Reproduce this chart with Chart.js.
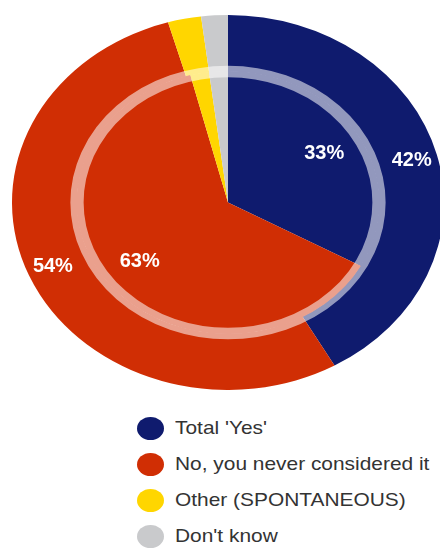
<!DOCTYPE html>
<html>
<head>
<meta charset="utf-8">
<script src="https://cdn.jsdelivr.net/npm/chart.js@4"></script>
<style>
  html, body { margin: 0; padding: 0; width: 440px; height: 551px; overflow: hidden; background: #fff; }
  #pie { position: absolute; left: 0; top: 0; }
  #legend { position: absolute; left: 137px; top: 410px; font-family: "Liberation Sans", Arial, sans-serif; }
  .item { height: 36px; display: flex; align-items: center; }
  .dot { width: 27px; height: 23px; border-radius: 50%; margin-right: 11px; flex: none; }
  .txt { font-size: 19px; color: #333; white-space: nowrap; transform: scaleX(1.1); transform-origin: left center; }
</style>
</head>
<body>
<canvas id="pie" width="440" height="390"></canvas>
<div id="legend"></div>
<script>
const categories = ["Total 'Yes'", "No, you never considered it", "Other (SPONTANEOUS)", "Don't know"];
const outerValues = [42, 54, 2.5, 2];
const innerValues = [33, 63, 2, 2];
const colors = ["#0f1b6e", "#d02e04", "#ffd600", "#c9cacc"];

// the picture is a bit wider than tall
const STRETCH_X = 1.152;

/* stretch the pie, draw the pale ring and the % labels */
const ellipsePie = {
  id: "ellipsePie",
  beforeDatasetsDraw(chart) {
    const ctx = chart.ctx;
    const arc = chart.getDatasetMeta(0).data[0];
    ctx.save();
    ctx.translate(arc.x, arc.y);
    ctx.scale(STRETCH_X, 1);
    ctx.translate(-arc.x, -arc.y);
  },
  afterDatasetsDraw(chart) {
    const ctx = chart.ctx;
    const outer = chart.getDatasetMeta(0).data;
    const inner = chart.getDatasetMeta(1).data;
    const cx = outer[0].x, cy = outer[0].y;
    const seam = outer[0].innerRadius;

    // hide the hairline between the two rings
    inner.forEach((arc, i) => {
      ctx.beginPath();
      ctx.arc(cx, cy, seam - 1.5, arc.startAngle, arc.endAngle);
      ctx.lineWidth = 4;
      ctx.strokeStyle = colors[i];
      ctx.stroke();
    });

    ctx.beginPath();
    ctx.arc(cx, cy, seam, 0, Math.PI * 2);
    ctx.lineWidth = 11.5;
    ctx.strokeStyle = "rgba(255,255,255,0.55)";
    ctx.stroke();
    ctx.restore();

    ctx.save();
    ctx.font = "bold 20px 'Liberation Sans', Arial, sans-serif";
    ctx.fillStyle = "#fff";
    ctx.textAlign = "center";
    ctx.textBaseline = "middle";
    const put = (arc, value, r) => {
      if (value < 10) return;
      const a = (arc.startAngle + arc.endAngle) / 2;
      ctx.fillText(value + "%", cx + Math.cos(a) * r * STRETCH_X, cy + Math.sin(a) * r);
    };
    outer.forEach((arc, i) => put(arc, outerValues[i], arc.innerRadius + 0.6 * (arc.outerRadius - arc.innerRadius)));
    inner.forEach((arc, i) => put(arc, innerValues[i], 0.74 * arc.outerRadius));
    ctx.restore();
  }
};

new Chart(document.getElementById("pie"), {
  type: "pie",
  data: {
    labels: categories,
    datasets: [
      { data: outerValues, backgroundColor: colors, borderWidth: 0, hoverOffset: 0, weight: 65, clip: false },
      { data: innerValues, backgroundColor: colors, borderWidth: 0, hoverOffset: 0, weight: 151, clip: false }
    ]
  },
  options: {
    responsive: false,
    animation: false,
    layout: { padding: { left: 16, top: 15 } },
    plugins: { legend: { display: false }, tooltip: { enabled: false } }
  },
  plugins: [ellipsePie]
});

/* Legend */
const legend = document.getElementById("legend");
categories.forEach((name, i) => {
  legend.innerHTML += `<div class="item"><span class="dot" style="background:${colors[i]}"></span><span class="txt">${name}</span></div>`;
});
</script>
</body>
</html>
